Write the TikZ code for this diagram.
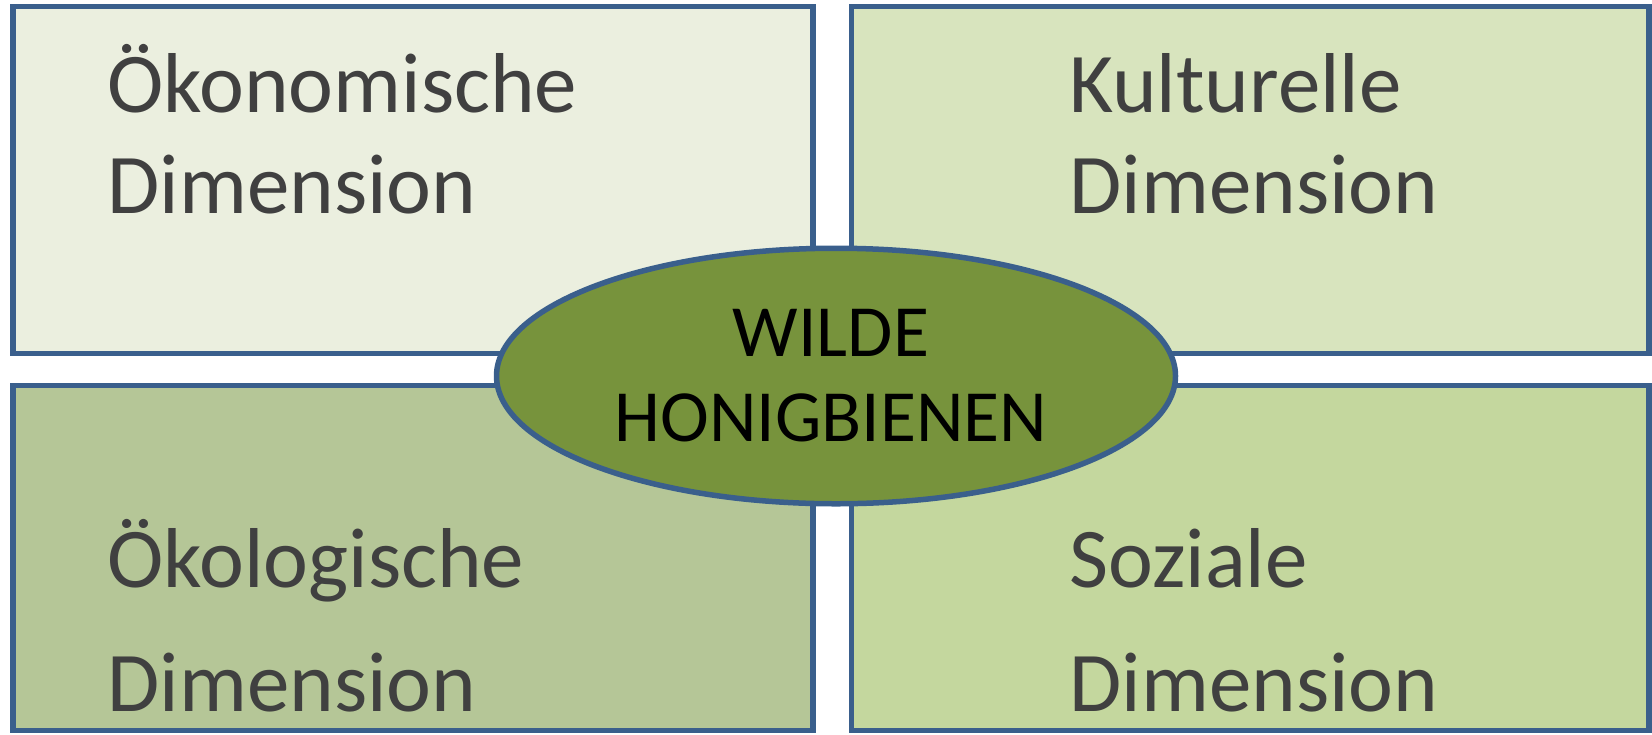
\documentclass[tikz,border=0pt]{standalone}
\usepackage{fontspec}
\setmainfont{Carlito}
\usepackage{tikz}
\usetikzlibrary{positioning,shapes}
\definecolor{frameblue}{RGB}{58,95,140}
\definecolor{oekonomie}{RGB}{235,239,223}
\definecolor{kultur}{RGB}{216,228,190}
\definecolor{oekologie}{RGB}{181,198,151}
\definecolor{sozial}{RGB}{196,215,158}
\definecolor{bienen}{RGB}{119,147,60}
\definecolor{dimgray}{RGB}{64,64,64}
\tikzstyle{dim}=[%
      rectangle, draw=frameblue, line width=2.75pt, inner sep=0pt,
      minimum width=400pt, minimum height=173.5pt
]
\tikzstyle{dimtext}=[%
      text=dimgray, anchor=base west, align=left, inner sep=0pt,
      font=\fontsize{42.5pt}{50.5pt}\selectfont
]
\tikzstyle{center}=[%
      ellipse, draw=frameblue, line width=2.75pt, fill=bienen, inner sep=0pt,
      minimum width=339.5pt, minimum height=127.75pt, align=center,
      font=\fontsize{36.8pt}{42.5pt}\selectfont
]

\begin{document}
\begin{tikzpicture}[x=0.5pt,y=-0.5pt]
    \useasboundingbox (0,0) rectangle (1652,734);

    \node[dim, fill=oekonomie] (oek)  at (413,179.75)  {};
    \node[dim, fill=kultur, minimum width=398.75pt] (kul) at (1250.25,179.75) {};
    \node[dim, fill=oekologie, minimum height=172.5pt] (eko) at (413,558) {};
    \node[dim, fill=sozial, minimum width=398.75pt, minimum height=172.5pt] (soz) at (1250.25,558) {};

    % base anchor sits on the last line
    \node[dimtext] (oektext) at (107,213) {Ökonomische\\Dimension};
    \node[dimtext] (kultext) at (1069,213) {Kulturelle\\Dimension};
    \node[dimtext] (ekotext) at (107,711) {Ökologische\\[11.5pt]Dimension};
    \node[dimtext] (soztext) at (1069,711) {Soziale\\[11.5pt]Dimension};

    \node[center] (wilde) at (836,376) {\hspace*{-5pt}WILDE\\\hspace*{-5pt}HONIGBIENEN};
  \end{tikzpicture}
\end{document}
